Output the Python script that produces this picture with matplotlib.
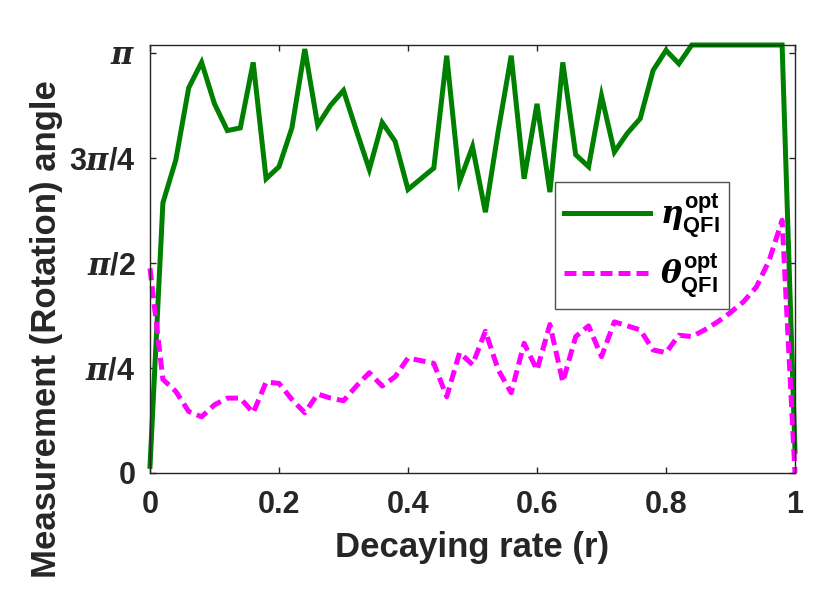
import matplotlib
matplotlib.use("Agg")
import matplotlib.pyplot as plt
import numpy as np

plt.rcParams['font.family'] = ['Liberation Sans', 'DejaVu Sans']
plt.rcParams['font.weight'] = 'bold'
plt.rcParams['mathtext.fontset'] = 'custom'
plt.rcParams['mathtext.it'] = 'DejaVu Serif:italic:bold'
plt.rcParams['mathtext.rm'] = 'Liberation Sans:bold'
plt.rcParams['mathtext.bf'] = 'Liberation Sans:bold'

# ---- data ----
r = [0.00, 0.02, 0.04, 0.06, 0.08, 0.10, 0.12, 0.14, 0.16, 0.18,
     0.20, 0.22, 0.24, 0.26, 0.28, 0.30, 0.32, 0.34, 0.36, 0.38,
     0.40, 0.42, 0.44, 0.46, 0.48, 0.50, 0.52, 0.54, 0.56, 0.58,
     0.60, 0.62, 0.64, 0.66, 0.68, 0.70, 0.72, 0.74, 0.76, 0.78,
     0.80, 0.82, 0.84, 0.86, 0.88, 0.90, 0.92, 0.94, 0.96, 0.98, 1.00]

eta_opt = [0.05, 2.02, 2.34, 2.88, 3.07, 2.76, 2.56, 2.58, 3.07, 2.20,
           2.29, 2.58, 3.17, 2.60, 2.75, 2.86, 2.56, 2.27, 2.62, 2.48,
           2.12, 2.20, 2.28, 3.12, 2.18, 2.44, 1.95, 2.56, 3.12, 2.20,
           2.76, 2.10, 3.07, 2.38, 2.29, 2.82, 2.40, 2.54, 2.65, 3.01,
           3.16, 3.06, 3.20, 3.20, 3.20, 3.20, 3.20, 3.20, 3.20, 3.20, 0.16]

theta_opt = [1.53, 0.70, 0.61, 0.46, 0.42, 0.51, 0.56, 0.56, 0.45, 0.68,
             0.67, 0.55, 0.45, 0.59, 0.56, 0.54, 0.65, 0.75, 0.65, 0.72,
             0.86, 0.84, 0.82, 0.57, 0.90, 0.81, 1.06, 0.77, 0.60, 0.97,
             0.77, 1.11, 0.68, 1.02, 1.10, 0.87, 1.13, 1.10, 1.07, 0.92,
             0.90, 1.03, 1.02, 1.07, 1.13, 1.20, 1.28, 1.39, 1.59, 1.89, 0.00]

xticks = [0, 0.2, 0.4, 0.6, 0.8, 1]
xticklabels = ['0', '0.2', '0.4', '0.6', '0.8', '1']
yticks = [0, np.pi / 4, np.pi / 2, 3 * np.pi / 4, np.pi]
yticklabels = ['0', r'$\pi$/4', r'$\pi$/2', r'3$\pi$/4', r'$\pi$']

labels = [r'$\eta^{\mathbf{opt}}_{\mathbf{QFI}}$', r'$\theta^{\mathbf{opt}}_{\mathbf{QFI}}$']

# ---- figure ----
fig = plt.figure(figsize=(8.30, 6.06), dpi=100)
ax = fig.add_axes([150 / 830, 1 - 473 / 606, 645 / 830, 428 / 606])

axcol = '#262626'
lw = 3.6
ax.plot(r, eta_opt, color=(0, 0.5, 0), lw=lw, label=labels[0], clip_on=False,
        solid_joinstyle='miter')
ax.plot(r, theta_opt, color=(1, 0, 1), lw=lw, label=labels[1], clip_on=False,
        linestyle=(0, (2.4, 1.2)))

ax.set_xlim(0, 1)
ax.set_ylim(0, 3.2)
ax.set_xticks(xticks)
ax.set_xticklabels(xticklabels)
ax.set_yticks(yticks)
ax.set_yticklabels(yticklabels)
ax.tick_params(direction='in', length=4.5, width=1.0, colors=axcol,
               labelsize=22, top=True, right=True)
ax.tick_params(axis='x', pad=12)
ax.tick_params(axis='y', pad=10.5)
for s in ax.spines.values():
    s.set_color(axcol)
    s.set_linewidth(1.0)
for t in ax.get_xticklabels() + ax.get_yticklabels():
    t.set_fontweight('bold')

fig.text(472 / 830, 1 - 556.7 / 606, 'Decaying rate (r)', ha='center', va='baseline',
         fontsize=25, fontweight='bold', color=axcol)
fig.text(46.5 / 830, 1 - 329 / 606, 'Measurement (Rotation) angle', ha='center',
         va='center', rotation=90, fontsize=25, fontweight='bold', color=axcol)

leg = ax.legend(loc='upper left', bbox_to_anchor=((555 - 150) / 645, (473 - 182) / 428),
                borderaxespad=0, fontsize=22.5, frameon=True, fancybox=False,
                edgecolor=axcol, handlelength=2.75, handletextpad=0.3,
                labelspacing=0.35, borderpad=0.3)
leg.get_frame().set_linewidth(1.0)

fig.savefig('out.png', dpi=100)
